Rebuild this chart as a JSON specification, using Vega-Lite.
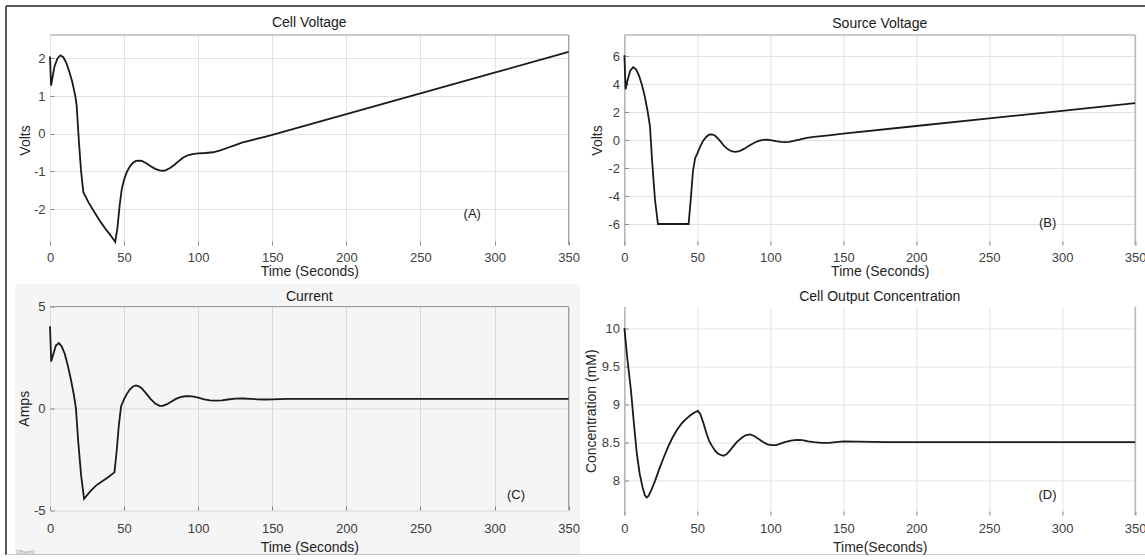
{
  "$schema": "https://vega.github.io/schema/vega-lite/v6.json",
  "autosize": {"type": "none"},
  "padding": {"left": 50, "top": 35, "right": 1095, "bottom": 525},
  "background": "white",
  "config": {
    "font": "Liberation Sans",
    "view": {"stroke": null},
    "axis": {
      "labelFont": "Liberation Sans", "labelFontSize": 13, "labelColor": "#404040",
      "titleFont": "Liberation Sans", "titleFontSize": 14, "titleFontWeight": "normal", "titleColor": "#262626",
      "grid": true, "gridColor": "#e2e2e2", "gridWidth": 1, "domain": false,
      "tickColor": "#8c8c8c", "tickSize": -4, "labelPadding": 9, "tickCount": 30,
      "labelOverlap": false, "labelFlush": false, "format": ".6~r",
      "labelExpr": "replace(datum.label, '\u2212', '-')"
    },
    "title": {"font": "Liberation Sans", "fontSize": 14, "fontWeight": "normal", "color": "#1a1a1a", "offset": 5, "anchor": "middle", "frame": "group"}
  },
  "datasets": {
    "one": [{}],
    "a": [
      {"t":0,"v":2.05},{"t":0.7,"v":1.28},{"t":1.5,"v":1.45},{"t":3,"v":1.78},{"t":5,"v":2.0},{"t":7,"v":2.08},{"t":9,"v":2.03},{"t":11,"v":1.88},{"t":13,"v":1.65},{"t":15,"v":1.38},{"t":17,"v":1.02},{"t":18,"v":0.75},{"t":19.5,"v":-0.2},{"t":21,"v":-1.0},{"t":22.5,"v":-1.55},{"t":26,"v":-1.82},{"t":30,"v":-2.08},{"t":34,"v":-2.33},{"t":38,"v":-2.55},{"t":41,"v":-2.7},{"t":44,"v":-2.87},{"t":45.5,"v":-2.5},{"t":47,"v":-1.9},{"t":48.5,"v":-1.45},{"t":50,"v":-1.22},{"t":52,"v":-1.0},{"t":54,"v":-0.86},{"t":56,"v":-0.77},{"t":58,"v":-0.72},{"t":60,"v":-0.71},{"t":62,"v":-0.72},{"t":65,"v":-0.78},{"t":68,"v":-0.86},{"t":71,"v":-0.93},{"t":74,"v":-0.97},{"t":76,"v":-0.98},{"t":78,"v":-0.97},{"t":81,"v":-0.91},{"t":84,"v":-0.82},{"t":87,"v":-0.72},{"t":90,"v":-0.63},{"t":93,"v":-0.57},{"t":96,"v":-0.54},{"t":100,"v":-0.52},{"t":105,"v":-0.51},{"t":110,"v":-0.49},{"t":115,"v":-0.44},{"t":120,"v":-0.37},{"t":125,"v":-0.3},{"t":130,"v":-0.23},{"t":135,"v":-0.18},{"t":140,"v":-0.13},{"t":145,"v":-0.08},{"t":150,"v":-0.03},{"t":200,"v":0.52},{"t":250,"v":1.07},{"t":300,"v":1.62},{"t":350,"v":2.17}
    ],
    "b": [
      {"t":0,"v":6.05},{"t":0.8,"v":3.62},{"t":2,"v":4.2},{"t":4,"v":4.95},{"t":6,"v":5.2},{"t":8,"v":5.05},{"t":10,"v":4.6},{"t":12,"v":3.95},{"t":14,"v":3.1},{"t":16,"v":2.0},{"t":17.5,"v":1.0},{"t":19,"v":-1.5},{"t":21,"v":-4.3},{"t":23,"v":-6.0},{"t":44,"v":-6.0},{"t":45.5,"v":-4.2},{"t":47,"v":-2.2},{"t":48.5,"v":-1.3},{"t":50,"v":-0.95},{"t":52,"v":-0.45},{"t":54,"v":-0.05},{"t":56,"v":0.22},{"t":58,"v":0.38},{"t":60,"v":0.4},{"t":62,"v":0.32},{"t":64,"v":0.12},{"t":66,"v":-0.12},{"t":68,"v":-0.38},{"t":70,"v":-0.58},{"t":72,"v":-0.73},{"t":74,"v":-0.82},{"t":76,"v":-0.85},{"t":78,"v":-0.82},{"t":80,"v":-0.74},{"t":83,"v":-0.57},{"t":86,"v":-0.38},{"t":89,"v":-0.2},{"t":92,"v":-0.06},{"t":95,"v":0.01},{"t":98,"v":0.02},{"t":101,"v":-0.02},{"t":104,"v":-0.08},{"t":107,"v":-0.13},{"t":110,"v":-0.15},{"t":113,"v":-0.13},{"t":116,"v":-0.07},{"t":120,"v":0.03},{"t":125,"v":0.15},{"t":130,"v":0.23},{"t":135,"v":0.28},{"t":140,"v":0.33},{"t":150,"v":0.45},{"t":200,"v":1.0},{"t":250,"v":1.55},{"t":300,"v":2.08},{"t":350,"v":2.63}
    ],
    "c": [
      {"t":0,"v":4.03},{"t":0.8,"v":2.3},{"t":2,"v":2.6},{"t":4,"v":3.08},{"t":6,"v":3.2},{"t":8,"v":3.02},{"t":10,"v":2.67},{"t":12,"v":2.1},{"t":14,"v":1.45},{"t":16,"v":0.7},{"t":17.5,"v":0.0},{"t":19,"v":-1.6},{"t":21,"v":-3.3},{"t":23,"v":-4.45},{"t":27,"v":-4.1},{"t":31,"v":-3.8},{"t":35,"v":-3.6},{"t":39,"v":-3.4},{"t":43.5,"v":-3.15},{"t":45,"v":-2.1},{"t":46.5,"v":-0.8},{"t":48,"v":0.1},{"t":50,"v":0.45},{"t":52,"v":0.72},{"t":54,"v":0.93},{"t":56,"v":1.07},{"t":58,"v":1.12},{"t":60,"v":1.08},{"t":62,"v":0.97},{"t":65,"v":0.72},{"t":68,"v":0.45},{"t":71,"v":0.23},{"t":74,"v":0.12},{"t":76,"v":0.12},{"t":79,"v":0.2},{"t":82,"v":0.33},{"t":85,"v":0.46},{"t":88,"v":0.55},{"t":91,"v":0.59},{"t":94,"v":0.6},{"t":97,"v":0.57},{"t":100,"v":0.52},{"t":104,"v":0.44},{"t":108,"v":0.39},{"t":112,"v":0.37},{"t":116,"v":0.39},{"t":120,"v":0.43},{"t":125,"v":0.47},{"t":130,"v":0.48},{"t":135,"v":0.46},{"t":140,"v":0.44},{"t":145,"v":0.43},{"t":150,"v":0.44},{"t":160,"v":0.46},{"t":180,"v":0.46},{"t":350,"v":0.46}
    ],
    "d": [
      {"t":0,"v":10.0},{"t":2,"v":9.6},{"t":4.5,"v":9.18},{"t":6.5,"v":8.75},{"t":8.5,"v":8.35},{"t":10.5,"v":8.08},{"t":12.5,"v":7.9},{"t":14,"v":7.8},{"t":15.3,"v":7.77},{"t":16.5,"v":7.79},{"t":18.5,"v":7.87},{"t":21,"v":7.99},{"t":24,"v":8.15},{"t":27,"v":8.3},{"t":30,"v":8.44},{"t":33,"v":8.56},{"t":36,"v":8.66},{"t":39,"v":8.74},{"t":42,"v":8.8},{"t":45,"v":8.85},{"t":48,"v":8.89},{"t":50.3,"v":8.91},{"t":52,"v":8.87},{"t":54,"v":8.76},{"t":56,"v":8.63},{"t":58,"v":8.52},{"t":60,"v":8.45},{"t":62,"v":8.39},{"t":64,"v":8.35},{"t":66,"v":8.33},{"t":68,"v":8.32},{"t":70,"v":8.34},{"t":72,"v":8.38},{"t":74,"v":8.43},{"t":77,"v":8.5},{"t":80,"v":8.55},{"t":83,"v":8.59},{"t":86,"v":8.6},{"t":89,"v":8.58},{"t":92,"v":8.54},{"t":95,"v":8.5},{"t":98,"v":8.47},{"t":101,"v":8.46},{"t":104,"v":8.46},{"t":107,"v":8.48},{"t":110,"v":8.5},{"t":114,"v":8.52},{"t":118,"v":8.53},{"t":122,"v":8.525},{"t":126,"v":8.51},{"t":130,"v":8.5},{"t":135,"v":8.49},{"t":140,"v":8.49},{"t":150,"v":8.51},{"t":160,"v":8.505},{"t":180,"v":8.5},{"t":350,"v":8.5}
    ],
    "notes": [
      {"panel":"A","t":285,"v":-2.12,"label":"(A)"},
      {"panel":"B","t":290,"v":-5.93,"label":"(B)"},
      {"panel":"C","t":314.5,"v":-4.25,"label":"(C)"},
      {"panel":"D","t":290,"v":7.8,"label":"(D)"},
      {"panel":"C0","t":-23,"v":-7.05,"label":"Offset=0"}
    ]
  },
  "columns": 2,
  "spacing": {"row": 61.5, "column": 55.4},
  "bounds": "flush",
  "concat": [
    {
      "width": 518.6, "height": 210,
      "title": {"text": "Cell Voltage", "offset": -25},
      "layer": [
        {"data": {"name": "one"}, "mark": {"type": "rule", "color": "#222222", "strokeWidth": 1.5},
         "encoding": {"x": {"datum": -29.7, "type": "quantitative", "scale": {"domain": [0, 350], "nice": false, "zero": false}, "axis": {"values": [0,50,100,150,200,250,300,350], "title": "Time (Seconds)", "labelPadding": 10, "titleY": 19.5}},
                      "x2": {"datum": 739}, "y": {"datum": 3.389, "type": "quantitative", "scale": {"domain": [-2.95, 2.62], "nice": false, "zero": false}, "axis": {"values": [-2,-1,0,1,2], "title": "Volts", "titleX": -18}}}},
        {"data": {"name": "one"}, "mark": {"type": "rule", "color": "#222222", "strokeWidth": 1.5},
         "encoding": {"x": {"datum": -29.7}, "y": {"datum": 3.389}, "y2": {"datum": -11.17}}},
        {"data": {"name": "one"}, "mark": {"type": "rule", "color": "#cccccc", "strokeWidth": 1},
         "encoding": {"x": {"datum": -29.7}, "x2": {"datum": 739}, "y": {"datum": -11.16}}},
        {"data": {"name": "one"}, "mark": {"type": "rule", "color": "#999999"}, "encoding": {"y": {"datum": 2.62}}},
        {"data": {"name": "one"}, "mark": {"type": "rule", "color": "#999999"}, "encoding": {"x": {"datum": 350}}},
        {"data": {"name": "a"}, "mark": {"type": "line", "color": "#1a1a1a", "strokeWidth": 1.8},
         "encoding": {"x": {"field": "t", "type": "quantitative"}, "y": {"field": "v", "type": "quantitative"}}},
        {"data": {"name": "notes"}, "transform": [{"filter": "datum.panel == 'A'"}],
         "mark": {"type": "text", "fontSize": 13, "color": "#1a1a1a", "font": "Liberation Sans"},
         "encoding": {"x": {"field": "t", "type": "quantitative"}, "y": {"field": "v", "type": "quantitative"}, "text": {"field": "label"}}}
      ]
    },
    {
      "width": 510.7, "height": 210,
      "title": {"text": "Source Voltage", "offset": 4},
      "layer": [
        {"data": {"name": "one"}, "mark": {"type": "rule", "color": "#999999"},
         "encoding": {"y": {"datum": 7.5, "type": "quantitative", "scale": {"domain": [-7.5, 7.5], "nice": false, "zero": false}, "axis": {"values": [-6,-4,-2,0,2,4,6], "title": "Volts", "titleX": -19.5, "domain": true, "domainColor": "#999999"}}}},
        {"data": {"name": "one"}, "mark": {"type": "rule", "color": "#999999"},
         "encoding": {"x": {"datum": 350, "type": "quantitative", "scale": {"domain": [0, 350], "nice": false, "zero": false}, "axis": {"values": [0,50,100,150,200,250,300,350], "title": "Time (Seconds)", "labelPadding": 10, "titleY": 19.5}}}},
        {"data": {"name": "b"}, "mark": {"type": "line", "color": "#1a1a1a", "strokeWidth": 1.8},
         "encoding": {"x": {"field": "t", "type": "quantitative"}, "y": {"field": "v", "type": "quantitative"}}},
        {"data": {"name": "notes"}, "transform": [{"filter": "datum.panel == 'B'"}],
         "mark": {"type": "text", "fontSize": 13, "color": "#1a1a1a", "font": "Liberation Sans"},
         "encoding": {"x": {"field": "t", "type": "quantitative"}, "y": {"field": "v", "type": "quantitative"}, "text": {"field": "label"}}}
      ]
    },
    {
      "width": 518.6, "height": 203.5,
      "title": {"text": "Current", "offset": -20},
      "layer": [
        {"data": {"name": "one"}, "mark": {"type": "rect", "fill": "#000000", "opacity": 0.04},
         "encoding": {"x": {"datum": -23.6, "type": "quantitative", "scale": {"domain": [0, 350], "nice": false, "zero": false}, "axis": {"values": [0,50,100,150,200,250,300,350], "title": "Time (Seconds)", "labelPadding": 16, "titleY": 30.2}},
                      "x2": {"datum": 357.7},
                      "y": {"datum": 6.11, "type": "quantitative", "scale": {"domain": [-5, 5], "nice": false, "zero": false}, "axis": {"values": [-5,0,5], "title": "Amps", "titleX": -19}},
                      "y2": {"datum": -7.21}}},
        {"data": {"name": "one"}, "mark": {"type": "rule", "color": "#999999"}, "encoding": {"y": {"datum": 5}}},
        {"data": {"name": "one"}, "mark": {"type": "rule", "color": "#999999"}, "encoding": {"x": {"datum": 350}}},
        {"data": {"name": "c"}, "mark": {"type": "line", "color": "#1a1a1a", "strokeWidth": 1.8},
         "encoding": {"x": {"field": "t", "type": "quantitative"}, "y": {"field": "v", "type": "quantitative"}}},
        {"data": {"name": "notes"}, "transform": [{"filter": "datum.panel == 'C'"}],
         "mark": {"type": "text", "fontSize": 13, "color": "#1a1a1a", "font": "Liberation Sans"},
         "encoding": {"x": {"field": "t", "type": "quantitative"}, "y": {"field": "v", "type": "quantitative"}, "text": {"field": "label"}}},
        {"data": {"name": "notes"}, "transform": [{"filter": "datum.panel == 'C0'"}],
         "mark": {"type": "text", "fontSize": 5, "color": "#9a9a9a", "align": "left", "font": "Liberation Sans"},
         "encoding": {"x": {"field": "t", "type": "quantitative"}, "y": {"field": "v", "type": "quantitative"}, "text": {"field": "label"}}}
      ]
    },
    {
      "width": 510.7, "height": 208.5,
      "title": {"text": "Cell Output Concentration", "offset": 1.8},
      "layer": [
        {"data": {"name": "one"}, "mark": {"type": "rule", "color": "#999999"},
         "encoding": {"x": {"datum": 350, "type": "quantitative", "scale": {"domain": [0, 350], "nice": false, "zero": false}, "axis": {"values": [0,50,100,150,200,250,300,350], "title": "Time(Seconds)", "labelPadding": 11, "titleY": 25.5}}}},
        {"data": {"name": "d"}, "mark": {"type": "line", "color": "#1a1a1a", "strokeWidth": 1.8},
         "encoding": {"x": {"field": "t", "type": "quantitative"}, "y": {"field": "v", "type": "quantitative", "scale": {"domain": [7.54, 10.285], "nice": false, "zero": false}, "axis": {"values": [8, 8.5, 9, 9.5, 10], "title": "Concentration (mM)", "titleX": -26, "domain": true, "domainColor": "#999999"}}}},
        {"data": {"name": "notes"}, "transform": [{"filter": "datum.panel == 'D'"}],
         "mark": {"type": "text", "fontSize": 13, "color": "#1a1a1a", "font": "Liberation Sans"},
         "encoding": {"x": {"field": "t", "type": "quantitative"}, "y": {"field": "v", "type": "quantitative"}, "text": {"field": "label"}}}
      ]
    }
  ]
}
